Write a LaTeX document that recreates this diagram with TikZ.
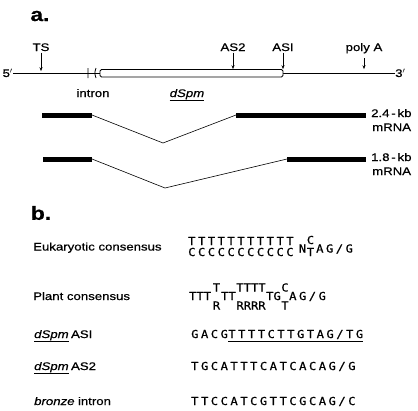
\documentclass[tikz,border=0pt]{standalone}
\usepackage{fontspec}
\setmainfont{Liberation Sans}[FakeStretch=1.2,FakeBold=0.6]
\newfontfamily\seqfont{DejaVu Sans Mono}[FakeStretch=1.1,LetterSpace=23,FakeBold=0.8]
\newfontfamily\seqnarrow{DejaVu Sans Mono}[FakeStretch=1.1,FakeBold=0.8]
\usepackage{tikz}
\usetikzlibrary{arrows.meta}
\tikzset{lbl/.style={font=\fontsize{11}{11}\selectfont,inner sep=0pt,text height=8pt,text depth=0pt},
  lbli/.style={lbl,font=\fontsize{11}{11}\selectfont\itshape},
  seq/.style={font=\seqfont\fontsize{11}{11}\selectfont,inner sep=0pt,text height=8pt,text depth=0pt,anchor=west},
  seqn/.style={seq,font=\seqnarrow\fontsize{11}{11}\selectfont},
  panel/.style={font=\bfseries\fontsize{19}{19}\selectfont,inner sep=0pt},
  site/.style={-{Stealth[length=4pt,width=3pt]},line width=.7pt},
  exon/.style={line width=5pt}}
\begin{document}
\begin{tikzpicture}[x=1pt,y=-1pt]
\useasboundingbox (0,0) rectangle (418,410);
% a. map of the element
\node[panel] (pa) at (40,16) {a.};
\node[lbl,anchor=east] (five) at (13,73) {5$'$};
\node[lbl,anchor=west] (three) at (395,73) {3$'$};
\draw[line width=.7pt] (five.east) -- (three.west);
\draw[line width=.8pt] (88,68)--(88,78) (96,68) .. controls (94.5,73) .. (96,78);
\draw[line width=.8pt,fill=white,rounded corners=1.5pt] (100,69.5) rectangle (283,77);
\node[lbl] (ts) at (41,47) {TS};   \draw[site] (ts.south) ++(0,1.5) -- ++(0,18.5);
\node[lbl] (as2) at (233,47) {AS2}; \draw[site] (as2.south) ++(0,1.5) -- ++(0,16.5);
\node[lbl] (as1) at (283,47) {ASI}; \draw[site] (as1.south) ++(0,1.5) -- ++(0,16.5);
\node[lbl] (pA) at (364,47) {poly A}; \draw[site] (pA.south) ++(0,7) -- ++(0,11);
\node[lbl] (intr) at (93,93) {intron};
\node[lbli] (dspm) at (187,93) {dSpm};
\draw[line width=.6pt] ([yshift=-3pt]dspm.south west) -- ([yshift=-3pt]dspm.south east);
% transcripts
\draw[exon] (42,115) -- (92,115) coordinate (a1);
\draw[exon] (236,115) coordinate (a2) -- (366,115);
\coordinate (av) at (163,143);
\draw[line width=.6pt] (a1) -- (av) -- (a2);
\node[lbl,anchor=west] (k24) at (371,113) {2.4\,-\,kb};
\node[lbl,anchor=west] (r24) at (372,127) {mRNA};
\draw[exon] (43,159) -- (92,159) coordinate (b1);
\draw[exon] (287,159) coordinate (b2) -- (366,159);
\coordinate (bv) at (165,188);
\draw[line width=.6pt] (b1) -- (bv) -- (b2);
\node[lbl,anchor=west] (k18) at (371,157) {1.8\,-\,kb};
\node[lbl,anchor=west] (r18) at (372,171) {mRNA};
% b. splice sites
\node[panel] (pb) at (41,213) {b.};
\node[lbl,anchor=west] (euk) at (33,246.5) {Eukaryotic consensus};
\node[seq] (ekt) at (188,241) {TTTTTTTTTTT};
\node[seq] (ekc) at (188,252) {CCCCCCCCCCC};
\node[seqn,anchor=center] (ekn) at (302.5,248.5) {N};
\node[seqn,anchor=center] (ekcs) at (310.5,240) {C};
\node[seqn,anchor=center] (ekts) at (310.5,252) {T};
\node[seq] (ekag) at (316,248.5) {AG/G};
\node[lbl,anchor=west] (plant) at (33,296) {Plant consensus};
\node[seqn] (p1) at (189,296) {TTT};
\node[seqn,anchor=center] (p2t) at (216.5,287.5) {T};
\node[seqn,anchor=center] (p2r) at (216.5,305.5) {R};
\node[seqn] (p3) at (221,296) {TT};
\node[seqn,anchor=center] (p4t) at (251,287.5) {TTTT};
\node[seqn,anchor=center] (p4r) at (251,305.5) {RRRR};
\node[seqn] (p5) at (266,296) {TG};
\node[seqn,anchor=center] (p6c) at (285,287.5) {C};
\node[seqn,anchor=center] (p6t) at (285,305.5) {T};
\node[seq] (p7) at (289,296) {AG/G};
\node[lbli,anchor=west] (r1a) at (34,334) {dSpm};
\draw[line width=.6pt] ([yshift=-3pt]r1a.south west) -- ([yshift=-3pt]r1a.south east);
\node[lbl,anchor=west] (r1b) at ([xshift=2pt]r1a.east) {ASI};
\node[seq] (s1a) at (191,334) {GACG};
\node[seq] (s1b) at (s1a.east) {TTTTCTTGTAG/TG};
\draw[line width=.9pt] ([yshift=-3pt]s1b.south west) -- ([yshift=-3pt]s1b.south east);
\node[lbli,anchor=west] (r2a) at (34,366) {dSpm};
\draw[line width=.6pt] ([yshift=-3pt]r2a.south west) -- ([yshift=-3pt]r2a.south east);
\node[lbl,anchor=west] (r2b) at ([xshift=2pt]r2a.east) {AS2};
\node[seq] (s2) at (191,366) {TGCATTTCATCACAG/G};
\node[lbli,anchor=west] (r3a) at (34,401) {bronze};
\node[lbl,anchor=west] (r3b) at ([xshift=3pt]r3a.east) {intron};
\node[seq] (s3) at (191,401) {TTCCATCGTTCGCAG/C};
\end{tikzpicture}
\end{document}
